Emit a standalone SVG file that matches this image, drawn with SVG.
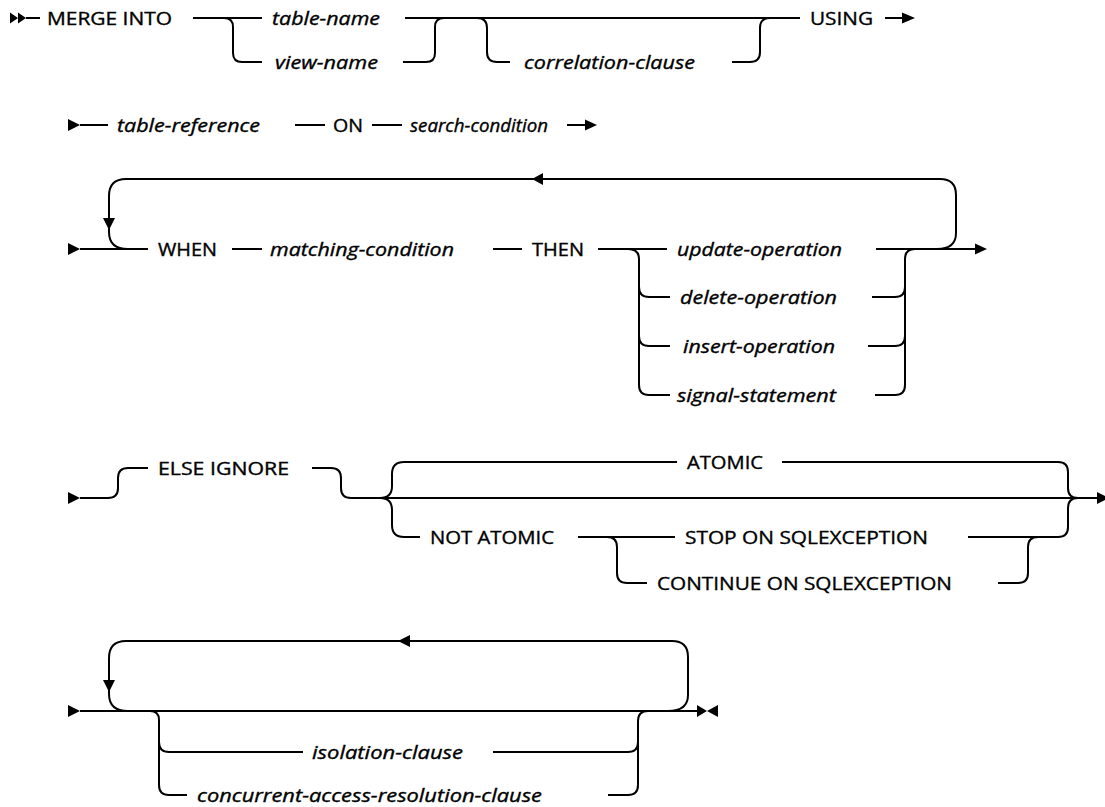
<svg xmlns="http://www.w3.org/2000/svg" width="1105" height="807" viewBox="0 0 1105 807">
<style>
.ln{fill:none;stroke:#000;stroke-width:2;}
.ah{fill:#000;stroke:none;}
.kw{font-family:"Open Sans","Liberation Sans",sans-serif;font-size:18px;fill:#000;stroke:#000;stroke-width:0.35;}
.var{font-family:"Open Sans","Liberation Sans",sans-serif;font-size:18px;font-style:italic;fill:#000;stroke:#000;stroke-width:0.35;}
</style>
<rect width="1105" height="807" fill="#fff"/>
<g id="connectors">
<path class="ah" d="M10 12.5 L18 18 L10 23.5 Z M18 12.5 L26 18 L18 23.5 Z"/>
<path class="ln" d="M26 18 H40"/>
<path class="ln" d="M193 18 H262"/>
<path class="ln" d="M224 18 Q233 18 233 27 V53 Q233 62 242 62 H262"/>
<path class="ln" d="M405 18 H800"/>
<path class="ln" d="M403 62 H426 Q435 62 435 53 V27 Q435 18 444 18"/>
<path class="ln" d="M477 18 Q487 18 487 28 V52 Q487 62 497 62 H510"/>
<path class="ln" d="M732 62 H750 Q760 62 760 52 V28 Q760 18 770 18"/>
<path class="ln" d="M885 18 H903"/>
<path class="ah" d="M902 12.5 L915 18 L902 23.5 Z"/>
<path class="ah" d="M68 119 L80 125 L68 131 Z"/>
<path class="ln" d="M80 125 H108"/>
<path class="ln" d="M295 125 H325"/>
<path class="ln" d="M372 125 H402"/>
<path class="ln" d="M567 125 H586"/>
<path class="ah" d="M585 119.5 L597 125 L585 130.5 Z"/>
<path class="ah" d="M68 243 L80 249 L68 255 Z"/>
<path class="ln" d="M80 249 H148"/>
<path class="ln" d="M937 249 Q956 249 956 233 V195 Q956 179 940 179 H126 Q109 179 109 196 V232 Q109 249 128 249"/>
<path class="ah" d="M103 218 L115 218 L109 230 Z"/>
<path class="ah" d="M543 173 L543 185 L532 179 Z"/>
<path class="ln" d="M232 249 H262"/>
<path class="ln" d="M493 249 H522"/>
<path class="ln" d="M598 249 H667"/>
<path class="ln" d="M628 249 Q639 249 639 259 V385 Q639 395 649 395 H670"/>
<path class="ln" d="M639 287 Q639 297 649 297 H670"/>
<path class="ln" d="M639 336 Q639 346 649 346 H670"/>
<path class="ln" d="M876 249 H976"/>
<path class="ah" d="M975 243.5 L987 249 L975 254.5 Z"/>
<path class="ln" d="M875 395 H895 Q905 395 905 385 V259 Q905 249 915 249"/>
<path class="ln" d="M872 297 H895 Q905 297 905 287"/>
<path class="ln" d="M868 346 H895 Q905 346 905 336"/>
<path class="ah" d="M68 492 L80 498 L68 504 Z"/>
<path class="ln" d="M80 498 H108 Q118 498 118 488 V478 Q118 468 128 468 H148"/>
<path class="ln" d="M312 468 H331 Q341 468 341 478 V488 Q341 498 351 498 H1098"/>
<path class="ah" d="M1097 492 L1109 498 L1097 504 Z"/>
<path class="ln" d="M380 498 Q392 498 392 486 V474 Q392 462 404 462 H677"/>
<path class="ln" d="M380 498 Q392 498 392 510 V525 Q392 537 404 537 H420"/>
<path class="ln" d="M578 537 H675"/>
<path class="ln" d="M607 537 Q617 537 617 547 V573 Q617 583 627 583 H647"/>
<path class="ln" d="M782 462 H1058 Q1068 462 1068 472 V488 Q1068 498 1078 498"/>
<path class="ln" d="M968 537 H1058 Q1068 537 1068 527 V508 Q1068 498 1078 498"/>
<path class="ln" d="M998 583 H1018 Q1028 583 1028 573 V547 Q1028 537 1038 537"/>
<path class="ah" d="M68 705 L80 711 L68 717 Z"/>
<path class="ln" d="M80 711 H698"/>
<path class="ln" d="M668 711 Q688 711 688 695 V657 Q688 641 672 641 H126 Q109 641 109 658 V694 Q109 711 128 711"/>
<path class="ah" d="M103 680 L115 680 L109 692 Z"/>
<path class="ah" d="M410 635 L410 647 L398 641 Z"/>
<path class="ln" d="M150 711 Q159 711 159 720 V785 Q159 795 169 795 H187"/>
<path class="ln" d="M159 742 Q159 752 169 752 H303"/>
<path class="ln" d="M493 752 H628 Q638 752 638 742 V721 Q638 711 648 711"/>
<path class="ln" d="M608 795 H628 Q638 795 638 785 V742"/>
<path class="ah" d="M697 705 L707 711 L697 717 Z M718 705 L707 711 L718 717 Z"/>
</g>
<g id="n-merge-into"><text class="kw" x="47" y="24.5" textLength="125" lengthAdjust="spacingAndGlyphs">MERGE INTO</text></g>
<g id="n-table-name"><text class="var" x="272" y="24.5" textLength="108" lengthAdjust="spacingAndGlyphs">table-name</text></g>
<g id="n-view-name"><text class="var" x="275" y="68.5" textLength="103" lengthAdjust="spacingAndGlyphs">view-name</text></g>
<g id="n-correlation-clause"><text class="var" x="524" y="68.5" textLength="171" lengthAdjust="spacingAndGlyphs">correlation-clause</text></g>
<g id="n-using"><text class="kw" x="810" y="24.5" textLength="63" lengthAdjust="spacingAndGlyphs">USING</text></g>
<g id="n-table-reference"><text class="var" x="117" y="131.5" textLength="143" lengthAdjust="spacingAndGlyphs">table-reference</text></g>
<g id="n-on"><text class="kw" x="333" y="131.5" textLength="30" lengthAdjust="spacingAndGlyphs">ON</text></g>
<g id="n-search-condition"><text class="var" x="410" y="131.5" textLength="138" lengthAdjust="spacingAndGlyphs">search-condition</text></g>
<g id="n-when"><text class="kw" x="158" y="255.5" textLength="59" lengthAdjust="spacingAndGlyphs">WHEN</text></g>
<g id="n-matching-condition"><text class="var" x="270" y="255.5" textLength="184" lengthAdjust="spacingAndGlyphs">matching-condition</text></g>
<g id="n-then"><text class="kw" x="532" y="255.5" textLength="52" lengthAdjust="spacingAndGlyphs">THEN</text></g>
<g id="n-update-operation"><text class="var" x="677" y="255.5" textLength="165" lengthAdjust="spacingAndGlyphs">update-operation</text></g>
<g id="n-delete-operation"><text class="var" x="680" y="303.5" textLength="157" lengthAdjust="spacingAndGlyphs">delete-operation</text></g>
<g id="n-insert-operation"><text class="var" x="683" y="352.5" textLength="152" lengthAdjust="spacingAndGlyphs">insert-operation</text></g>
<g id="n-signal-statement"><text class="var" x="677" y="401.5" textLength="159" lengthAdjust="spacingAndGlyphs">signal-statement</text></g>
<g id="n-else-ignore"><text class="kw" x="158" y="474.5" textLength="131" lengthAdjust="spacingAndGlyphs">ELSE IGNORE</text></g>
<g id="n-atomic"><text class="kw" x="687" y="468.5" textLength="76" lengthAdjust="spacingAndGlyphs">ATOMIC</text></g>
<g id="n-not-atomic"><text class="kw" x="430" y="543.5" textLength="124" lengthAdjust="spacingAndGlyphs">NOT ATOMIC</text></g>
<g id="n-stop"><text class="kw" x="685" y="543.5" textLength="243" lengthAdjust="spacingAndGlyphs">STOP ON SQLEXCEPTION</text></g>
<g id="n-continue"><text class="kw" x="657" y="589.5" textLength="295" lengthAdjust="spacingAndGlyphs">CONTINUE ON SQLEXCEPTION</text></g>
<g id="n-isolation-clause"><text class="var" x="312" y="758.5" textLength="151" lengthAdjust="spacingAndGlyphs">isolation-clause</text></g>
<g id="n-concurrent"><text class="var" x="197" y="801.5" textLength="345" lengthAdjust="spacingAndGlyphs">concurrent-access-resolution-clause</text></g>
</svg>
